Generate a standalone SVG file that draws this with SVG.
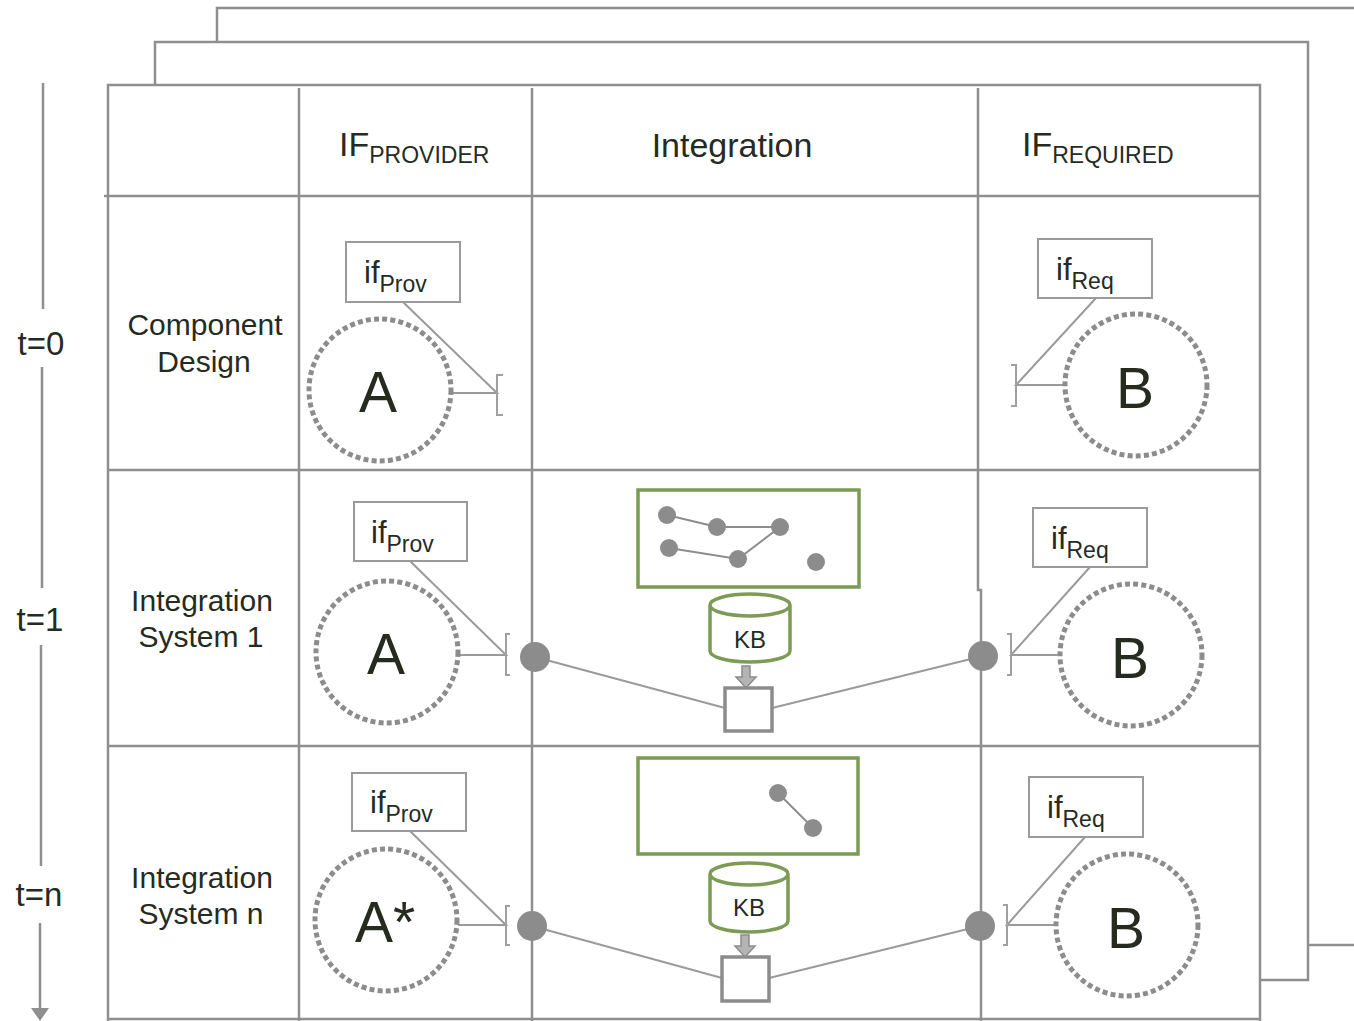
<svg xmlns="http://www.w3.org/2000/svg" width="1354" height="1021" viewBox="0 0 1354 1021">
  <style>
    .frame { fill: none; stroke: #8f8f8f; stroke-width: 2.5; }
    .grid { fill: none; stroke: #8f8f8f; stroke-width: 2.5; }
    .txt { font-family: "Liberation Sans", Arial, sans-serif; fill: #262b1f; }
    .lbl { font-size: 30px; text-anchor: middle; }
    .time { font-size: 33px; text-anchor: middle; }
    .box { fill: #fff; stroke: #9a9a9a; stroke-width: 2; }
    .comp { fill: none; stroke: #8c8c8c; stroke-width: 5; stroke-dasharray: 5 3.2; }
    .big { font-size: 57px; text-anchor: middle; }
    .link { fill: none; stroke: #9a9a9a; stroke-width: 2; }
    .brk { fill: none; stroke: #a0a0a0; stroke-width: 2; }
    .port { fill: #8c8c8c; }
    .kg { fill: #fff; stroke: #7d9b55; stroke-width: 3.5; }
    .kdot { fill: #8c8c8c; }
    .kline { stroke: #8c8c8c; stroke-width: 2; }
    .sq { fill: #fff; stroke: #8c8c8c; stroke-width: 3.5; }
    .feed { fill: #b4b4b4; stroke: #8c8c8c; stroke-width: 1.5; }
  </style>
  <defs>
    <marker id="timeHead" markerWidth="10" markerHeight="8" refX="9" refY="4" orient="auto" markerUnits="userSpaceOnUse">
      <path d="M0,0 L10,4 L0,8 Z" fill="#8f8f8f"/>
    </marker>
  </defs>
  <rect width="1354" height="1021" fill="#fff"/>

  <!-- stacked layers behind the main table -->
  <g id="layers">
    <polyline class="frame" points="217,42 217,8 1354,8"/>
    <line class="frame" x1="1308" y1="945" x2="1354" y2="945"/>
    <polyline class="frame" points="155,85 155,42 1308,42 1308,980 1261,980"/>
    <rect x="108" y="85" width="1152" height="950" fill="#fff" class="frame"/>
  </g>

  <!-- table grid -->
  <g id="grid">
    <line class="grid" x1="104" y1="196" x2="1260" y2="196"/>
    <line class="grid" x1="108" y1="470" x2="1260" y2="470"/>
    <line class="grid" x1="108" y1="746" x2="1260" y2="746"/>
    <line class="grid" x1="108" y1="1019" x2="1260" y2="1019"/>
    <line class="grid" x1="299" y1="88" x2="299" y2="1021"/>
    <line class="grid" x1="532" y1="88" x2="532" y2="1021"/>
    <polyline class="grid" points="978,88 978,590 981,590 981,1021"/>
  </g>

  <!-- timeline -->
  <g id="timeline">
    <line class="grid" x1="43" y1="83" x2="43" y2="309"/>
    <line class="grid" x1="42" y1="367" x2="42" y2="588"/>
    <line class="grid" x1="41" y1="645" x2="41" y2="866"/>
    <line class="grid" x1="40" y1="923" x2="40" y2="1010"/>
    <path d="M31,1008 L49,1008 L40,1021 Z" fill="#8f8f8f"/>
    <text class="txt time" x="41" y="355">t=0</text>
    <text class="txt time" x="40" y="631">t=1</text>
    <text class="txt time" x="39" y="906">t=n</text>
  </g>

  <!-- column headers -->
  <g id="headers">
    <text class="txt" x="339" y="156" font-size="34">IF<tspan font-size="23" dy="7">PROVIDER</tspan></text>
    <text class="txt" x="732" y="157" font-size="34" text-anchor="middle">Integration</text>
    <text class="txt" x="1022" y="156" font-size="34">IF<tspan font-size="23" dy="7">REQUIRED</tspan></text>
  </g>

  <!-- row labels -->
  <g id="rowLabels">
    <text class="txt lbl" x="205" y="335">Component</text>
    <text class="txt lbl" x="204" y="372">Design</text>
    <text class="txt lbl" x="202" y="611">Integration</text>
    <text class="txt lbl" x="201" y="647">System 1</text>
    <text class="txt lbl" x="202" y="888">Integration</text>
    <text class="txt lbl" x="201" y="924">System n</text>
  </g>

  <!-- connectors -->
  <g id="connectors">
    <!-- row t=0 -->
    <polyline class="link" points="403,302 497,393 453,393"/>
    <polyline class="link" points="1096,298 1016,385 1063,385"/>
    <!-- row t=1 -->
    <polyline class="link" points="410,561 506,655 459,655"/>
    <polyline class="link" points="1090,567 1011,655 1059,655"/>
    <line class="link" x1="535" y1="657" x2="725" y2="708"/>
    <line class="link" x1="772" y1="708" x2="983" y2="656"/>
    <!-- row t=n -->
    <polyline class="link" points="410,831 506,925 458,925"/>
    <polyline class="link" points="1085,837 1007,925 1055,925"/>
    <line class="link" x1="532" y1="926" x2="722" y2="978"/>
    <line class="link" x1="769" y1="978" x2="980" y2="926"/>
  </g>

  <!-- row t=0 nodes -->
  <g id="provA0">
    <rect class="box" x="346" y="242" width="114" height="60"/>
    <text class="txt" x="364" y="283" font-size="31">if<tspan font-size="23" dy="9">Prov</tspan></text>
    <circle class="comp" cx="380" cy="390" r="71"/>
    <text class="txt big" x="378" y="412">A</text>
    <polyline class="brk" points="503,375 497,375 497,415 503,415"/>
  </g>
  <g id="reqB0">
    <rect class="box" x="1038" y="239" width="114" height="59"/>
    <text class="txt" x="1056" y="280" font-size="31">if<tspan font-size="23" dy="9">Req</tspan></text>
    <circle class="comp" cx="1136" cy="385" r="71"/>
    <text class="txt big" x="1135" y="408">B</text>
    <polyline class="brk" points="1011,365 1016,365 1016,406 1011,406"/>
  </g>

  <!-- row t=1 nodes -->
  <g id="provA1">
    <rect class="box" x="354" y="502" width="113" height="59"/>
    <text class="txt" x="371" y="543" font-size="31">if<tspan font-size="23" dy="9">Prov</tspan></text>
    <circle class="comp" cx="387" cy="652" r="71"/>
    <text class="txt big" x="386" y="674">A</text>
    <polyline class="brk" points="510,634 506,634 506,675 510,675"/>
    <circle class="port" cx="535" cy="657" r="15"/>
  </g>
  <g id="integration1">
    <rect class="kg" x="638" y="490" width="221" height="97"/>
    <polyline class="kline" fill="none" points="667,515 717,527 780,527 738,559 669,548"/>
    <circle class="kdot" cx="667" cy="515" r="9"/>
    <circle class="kdot" cx="717" cy="527" r="9"/>
    <circle class="kdot" cx="780" cy="527" r="9"/>
    <circle class="kdot" cx="669" cy="548" r="9"/>
    <circle class="kdot" cx="738" cy="559" r="9"/>
    <circle class="kdot" cx="816" cy="562" r="9"/>
    <path class="kg" d="M710,605 V651 A40,11 0 0 0 790,651 V605 A40,11 0 0 0 710,605 A40,11 0 0 0 790,605"/>
    <text class="txt" x="750" y="648" font-size="24" text-anchor="middle">KB</text>
    <polygon class="feed" points="742,666 750,666 750,677 756,677 746,688 736,677 742,677"/>
    <rect class="sq" x="725" y="688" width="47" height="43"/>
  </g>
  <g id="reqB1">
    <circle class="port" cx="983" cy="656" r="15"/>
    <polyline class="brk" points="1007,634 1011,634 1011,675 1007,675"/>
    <rect class="box" x="1033" y="508" width="114" height="59"/>
    <text class="txt" x="1051" y="549" font-size="31">if<tspan font-size="23" dy="9">Req</tspan></text>
    <circle class="comp" cx="1131" cy="655" r="71"/>
    <text class="txt big" x="1130" y="678">B</text>
  </g>

  <!-- row t=n nodes -->
  <g id="provAn">
    <rect class="box" x="352" y="773" width="114" height="58"/>
    <text class="txt" x="370" y="813" font-size="31">if<tspan font-size="23" dy="9">Prov</tspan></text>
    <circle class="comp" cx="386" cy="920" r="71"/>
    <text class="txt big" x="385" y="942">A*</text>
    <polyline class="brk" points="510,906 506,906 506,945 510,945"/>
    <circle class="port" cx="532" cy="926" r="15"/>
  </g>
  <g id="integrationN">
    <rect class="kg" x="638" y="758" width="220" height="96"/>
    <line class="kline" x1="778" y1="793" x2="813" y2="828"/>
    <circle class="kdot" cx="778" cy="793" r="9"/>
    <circle class="kdot" cx="813" cy="828" r="9"/>
    <path class="kg" d="M710,874 V921 A39,11 0 0 0 788,921 V874 A39,11 0 0 0 710,874 A39,11 0 0 0 788,874"/>
    <text class="txt" x="749" y="916" font-size="24" text-anchor="middle">KB</text>
    <polygon class="feed" points="741,935 749,935 749,946 755,946 745,957 735,946 741,946"/>
    <rect class="sq" x="722" y="957" width="47" height="44"/>
  </g>
  <g id="reqBn">
    <circle class="port" cx="980" cy="926" r="15"/>
    <polyline class="brk" points="1003,905 1007,905 1007,945 1003,945"/>
    <rect class="box" x="1029" y="777" width="114" height="60"/>
    <text class="txt" x="1047" y="818" font-size="31">if<tspan font-size="23" dy="9">Req</tspan></text>
    <circle class="comp" cx="1127" cy="925" r="71"/>
    <text class="txt big" x="1126" y="948">B</text>
  </g>
</svg>
